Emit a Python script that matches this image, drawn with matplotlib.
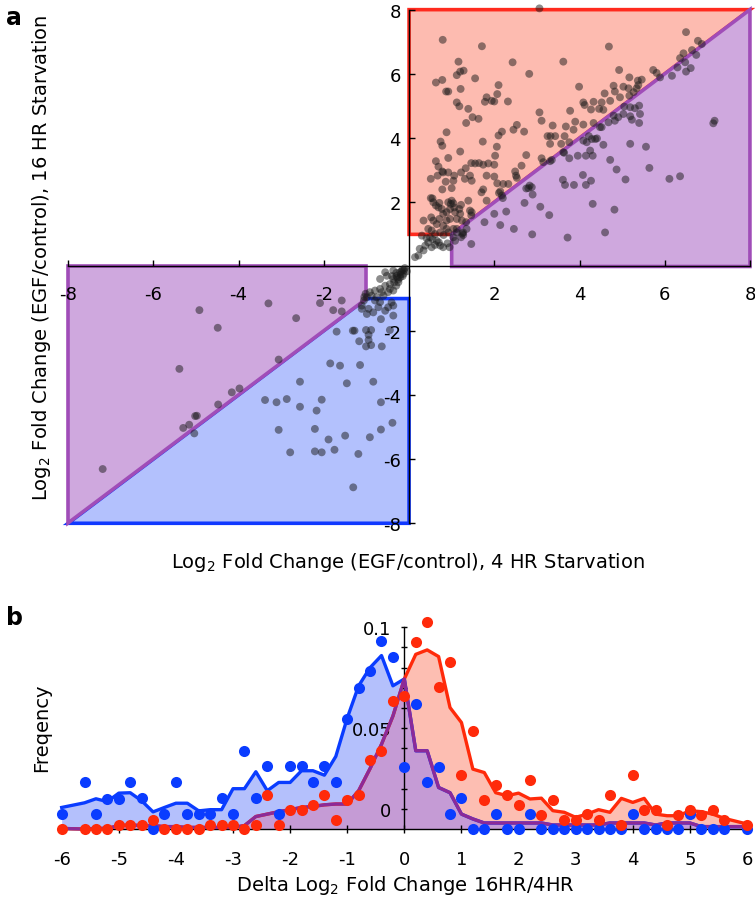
import numpy as np
import matplotlib
matplotlib.use("Agg")
import matplotlib.pyplot as plt
from matplotlib.patches import Polygon

plt.rcParams["font.family"] = ["DejaVu Sans"]
plt.rcParams["axes.unicode_minus"] = False

# ---------------- panel a data: log2 fold change, 4 HR (x) vs 16 HR (y)
up_x = [3.06, 0.79, 1.71, 4.69, 6.5, 6.78, 6.87, 1.16, 2.43, 3.62, 1.2, 1.28, 1.12, 6.44, 6.36, 6.64,
        6.74, 6.48, 6.3, 6.61, 6.5, 0.63, 0.78, 1.55, 2.82, 4.93, 5.73, 5.81, 6.17, 5.89, 5.17, 2.1,
        3.99, 5.03, 4.8, 5.37, 5.46, 5.38, 5.34, 0.87, 0.92, 1.21, 2.07, 1.82, 1.78, 1.94, 2.0, 2.32,
        1.12, 1.18, 1.39, 4.83, 4.95, 5.15, 5.27, 5.17, 4.59, 4.52, 4.72, 4.33, 4.09, 4.12, 3.78, 4.27,
        4.46, 4.56, 5.05, 5.19, 4.8, 4.91, 5.4, 5.42, 5.3, 3.06, 3.11, 1.49, 1.63, 1.34, 2.53, 2.45,
        2.7, 3.37, 3.68, 3.9, 4.09, 4.33, 3.86, 4.48, 4.68, 4.83, 5.03, 5.19, 5.23, 5.4, 7.17, 7.14,
        0.88, 0.74, 0.78, 1.2, 1.73, 2.06, 2.1, 2.18, 3.25, 3.32, 3.43, 3.65, 3.31, 3.57, 3.62, 3.76,
        4.09, 4.22, 4.29, 4.17, 4.37, 4.41, 4.56, 4.52, 5.19, 5.56, 0.63, 0.69, 0.78, 0.92, 0.92, 2.02,
        2.0, 2.75, 3.11, 3.15, 3.31, 3.35, 3.64, 3.76, 3.96, 4.15, 4.31, 4.25, 4.72, 5.64, 0.51, 0.67,
        0.8, 1.04, 1.22, 1.33, 1.46, 1.55, 1.64, 1.74, 1.86, 1.43, 1.31, 1.06, 0.86, 0.78, 1.0, 1.47,
        1.82, 2.0, 2.07, 2.21, 2.33, 2.49, 2.51, 2.53, 2.64, 1.74, 1.7, 2.14, 2.11, 2.8, 2.75, 2.88,
        2.83, 2.9, 2.2, 1.82, 2.18, 3.61, 3.66, 3.87, 4.08, 4.15, 4.27, 4.87, 5.08, 6.11, 6.36, 2.71,
        3.08, 4.31, 4.82, 3.29, 2.28, 2.0, 1.77, 2.14, 2.46, 2.89, 3.72, 4.6, 1.46, 1.22, 1.25, 1.12,
        0.34, 0.51, 0.55, 0.57, 0.63, 0.69, 0.71, 0.77, 0.8, 0.88, 0.92, 0.98, 1.0, 1.04, 0.96, 1.06,
        1.08, 1.18, 1.22, 1.2, 1.24, 1.34, 1.39, 1.43, 1.47, 1.46, 1.35, 1.27, 1.04, 0.88, 0.8, 0.65,
        0.57, 0.52, 0.71, 0.96, 1.12, 0.88, 0.73, 0.53, 0.45, 1.12, 0.92, 0.81, 0.61, 1.27, 1.04, 1.08,
        0.22, 0.34, 0.38, 0.45, 0.53, 0.61, 0.65, 0.73, 0.8, 0.41, 0.3, 0.49, 0.14, 0.25, 0.55, 0.7,
        0.9, 0.95]
up_y = [8.04, 7.06, 6.86, 6.85, 7.3, 7.03, 6.93, 6.38, 6.36, 6.38, 6.07, 6.1, 5.96, 6.64, 6.49, 6.74,
        6.59, 6.36, 6.2, 6.18, 6.07, 5.73, 5.81, 5.86, 6.0, 6.12, 6.12, 6.03, 5.94, 5.89, 5.89, 5.65,
        5.6, 5.6, 5.63, 5.79, 5.82, 5.65, 5.55, 5.45, 5.45, 5.53, 5.37, 5.27, 5.13, 5.16, 5.14, 5.14,
        5.11, 4.99, 4.91, 5.45, 5.27, 5.55, 5.43, 5.32, 5.39, 5.11, 5.16, 5.13, 5.11, 5.03, 4.85, 4.89,
        4.91, 4.88, 4.98, 4.96, 4.7, 4.65, 5.01, 4.75, 4.93, 4.8, 4.54, 4.65, 4.6, 4.47, 4.41, 4.26,
        4.2, 4.39, 4.36, 4.51, 4.42, 4.47, 4.26, 4.34, 4.49, 4.54, 4.75, 4.68, 4.57, 4.47, 4.54, 4.46,
        4.18, 3.89, 3.76, 3.58, 3.89, 3.73, 4.08, 4.2, 4.06, 4.06, 4.06, 4.06, 3.82, 3.82, 3.56, 3.87,
        3.92, 4.06, 3.97, 3.87, 3.97, 3.99, 3.79, 4.34, 3.82, 3.73, 3.28, 3.11, 2.96, 3.38, 2.93, 3.45,
        3.17, 3.47, 3.37, 3.25, 3.28, 3.32, 3.54, 3.37, 3.45, 3.45, 3.45, 3.61, 3.32, 3.07, 2.73, 2.83,
        2.93, 2.67, 2.93, 3.06, 3.22, 3.21, 3.22, 3.17, 3.21, 2.83, 2.73, 2.83, 2.64, 2.4, 2.44, 2.67,
        2.83, 2.8, 2.59, 2.57, 2.57, 2.96, 2.83, 2.76, 3.14, 2.4, 2.31, 2.34, 2.29, 2.44, 2.43, 2.47,
        2.52, 2.24, 2.13, 2.05, 2.21, 2.7, 2.54, 2.54, 2.85, 2.54, 2.67, 3.02, 2.71, 2.73, 2.81, 1.98,
        1.86, 1.95, 1.77, 1.6, 1.71, 1.64, 1.38, 1.29, 1.17, 1.0, 0.9, 1.06, 0.7, 0.91, 1.03, 1.17,
        1.43, 2.13, 2.12, 2.0, 1.9, 1.84, 1.98, 1.79, 1.64, 1.69, 2.0, 1.95, 2.05, 1.97, 1.79, 1.84,
        1.69, 1.79, 1.92, 1.64, 1.43, 1.38, 2.05, 1.74, 1.69, 1.59, 1.17, 1.06, 1.17, 1.17, 1.27, 1.32,
        1.43, 1.53, 1.48, 1.48, 1.48, 1.43, 1.06, 1.12, 1.17, 1.06, 1.06, 0.98, 1.01, 0.98, 0.91, 0.8,
        0.34, 0.5, 0.65, 0.75, 0.6, 0.67, 0.8, 0.65, 0.6, 0.88, 0.96, 0.91, 0.29, 0.55, 0.85, 0.75,
        0.72, 0.6]

down_x = [-7.19, -4.92, -4.49, -5.39, -3.3, -2.65, -3.06, -3.98, -4.16, -4.48, -4.98, -5.02, -5.16,
          -5.3, -5.04, -2.09, -1.78, -1.58, -1.58, -1.7, -1.32, -1.28, -1.01, -0.89, -0.95, -1.17,
          -0.95, -1.01, -0.89, -0.64, -0.45, -0.37, -1.85, -1.62, -1.15, -2.56, -1.46, -0.84, -3.38,
          -3.11, -2.87, -2.56, -2.17, -2.05, -0.66, -0.39, -0.66, -0.92, -2.21, -1.5, -1.89, -3.06,
          -2.79, -2.21, -2.05, -1.75, -1.19, -1.31, -1.11, -0.95, -0.8, -0.68, -0.56, -0.41, -0.84,
          -0.66, -0.99, -0.37, -0.49, -0.72, -1.11, -1.06, -0.92, -0.8, -0.68, -0.56, -0.45, -0.37,
          -0.29, -0.21, -0.25, -0.37, -0.49, -0.6, -0.76, -0.88, -0.99, -0.68, -0.52, -0.56, -0.37,
          -0.21, -0.13, -0.45, -0.64, -0.15, -0.1, -0.2, -0.3, -0.25, -0.35, -0.4, -0.15, -0.05, -0.3,
          -0.18, -0.12, -0.28, -1.02, -1.05]
down_y = [-6.31, -1.36, -1.91, -3.19, -1.15, -1.61, -2.9, -3.8, -3.92, -4.3, -4.65, -4.66, -4.93,
          -5.03, -5.2, -1.14, -1.36, -1.06, -1.4, -2.03, -2.0, -2.0, -1.98, -1.98, -2.13, -2.33,
          -2.29, -2.49, -2.45, -2.49, -1.98, -1.53, -3.02, -3.09, -3.07, -3.59, -3.64, -3.59, -4.16,
          -4.23, -4.13, -4.37, -4.49, -4.15, -4.23, -4.87, -5.08, -5.32, -5.06, -5.27, -5.39, -5.09,
          -5.79, -5.76, -5.79, -5.71, -5.84, -6.88, -1.32, -1.32, -1.06, -1.11, -1.38, -1.12, -1.43,
          -1.64, -1.48, -1.22, -1.27, -1.27, -1.22, -1.06, -0.8, -0.75, -0.7, -0.6, -0.55, -0.39,
          -0.29, -0.18, -0.49, -0.75, -0.8, -0.91, -0.96, -0.91, -0.96, -0.39, -0.29, -0.18, -0.13,
          -0.34, -0.23, -0.7, -0.8, -0.1, -0.05, -0.25, -0.2, -0.4, -0.5, -0.3, -0.3, -0.15, -0.6,
          -0.15, -0.12, -0.35, -0.85, -0.95]

# ---------------- panel b data: frequency of delta log2 fold change
delta = [-6.0, -5.6, -5.4, -5.2, -5.0, -4.8, -4.6, -4.4, -4.2, -4.0, -3.8, -3.6, -3.4, -3.2, -3.0,
         -2.8, -2.6, -2.4, -2.2, -2.0, -1.8, -1.6, -1.4, -1.2, -1.0, -0.8, -0.6, -0.4, -0.2, 0.0,
         0.2, 0.4, 0.6, 0.8, 1.0, 1.2, 1.4, 1.6, 1.8, 2.0, 2.2, 2.4, 2.6, 2.8, 3.0, 3.2, 3.4, 3.6,
         3.8, 4.0, 4.2, 4.4, 4.6, 4.8, 5.0, 5.2, 5.4, 5.6, 6.0]
blue_pts = [0.0074, 0.0231, 0.0074, 0.0149, 0.0149, 0.0231, 0.0152, 0.0, 0.0074, 0.0231, 0.0074,
            0.0074, 0.0074, 0.0152, 0.0074, 0.0388, 0.0152, 0.0314, 0.0074, 0.0314, 0.0314, 0.0231,
            0.0314, 0.0231, 0.0545, 0.0701, 0.0784, 0.0932, 0.0855, 0.031, 0.0619, 0.0234, 0.031,
            0.0074, 0.0152, 0.0, 0.0, 0.0074, 0.0, 0.0, 0.0074, 0.0, 0.0, 0.0, 0.0, 0.0, 0.0, 0.0,
            0.0, 0.0074, 0.0, 0.0, 0.0, 0.0, 0.0074, 0.0, 0.0, 0.0, 0.0]
red_pts = [0.0, 0.0, 0.0, 0.0, 0.002, 0.002, 0.002, 0.0046, 0.0, 0.0, 0.0, 0.0, 0.002, 0.002, 0.002,
           0.0, 0.002, 0.0168, 0.002, 0.0096, 0.0096, 0.0119, 0.0168, 0.0046, 0.0144, 0.0168, 0.0342,
           0.0388, 0.0636, 0.066, 0.0927, 0.1026, 0.0706, 0.083, 0.0267, 0.0487, 0.0145, 0.0218,
           0.0168, 0.0119, 0.0243, 0.0069, 0.0145, 0.0046, 0.0046, 0.0074, 0.0046, 0.0168, 0.002,
           0.0267, 0.0096, 0.0096, 0.002, 0.0069, 0.0096, 0.0069, 0.0096, 0.0046, 0.002]
blue_line = [0.0107, 0.013, 0.015, 0.0136, 0.0178, 0.018, 0.014, 0.0085, 0.0107, 0.0128, 0.0128,
             0.009, 0.0096, 0.0096, 0.02, 0.02, 0.0284, 0.019, 0.0231, 0.0231, 0.0289, 0.0289,
             0.0267, 0.036, 0.055, 0.071, 0.08, 0.086, 0.071, 0.0744, 0.0388, 0.0388, 0.0206, 0.018,
             0.0074, 0.005, 0.003, 0.003, 0.003, 0.003, 0.003, 0.003, 0.002, 0.002, 0.002, 0.002,
             0.002, 0.003, 0.003, 0.003, 0.003, 0.002, 0.003, 0.003, 0.003, 0.0012, 0.0012, 0.0012,
             0.0012]
purple_line = [0.0003, 0.0, 0.0003, 0.0003, 0.0017, 0.002, 0.0017, 0.0017, 0.0012, 0.0012, 0.0008,
               0.0008, 0.0008, 0.0008, 0.0008, 0.0017, 0.0062, 0.0074, 0.0086, 0.0096, 0.0107,
               0.0112, 0.012, 0.0124, 0.0124, 0.019, 0.03, 0.042, 0.056, 0.0744, 0.0388, 0.0388,
               0.0206, 0.018, 0.0074, 0.005, 0.003, 0.003, 0.003, 0.003, 0.003, 0.003, 0.002, 0.002,
               0.002, 0.002, 0.002, 0.003, 0.003, 0.003, 0.003, 0.002, 0.003, 0.003, 0.003, 0.0012,
               0.0012, 0.0012, 0.0012]
red_line = [0.0003, 0.0, 0.0003, 0.0003, 0.0017, 0.002, 0.0017, 0.0017, 0.0012, 0.0012, 0.0008,
            0.0008, 0.0008, 0.0008, 0.0008, 0.0017, 0.0062, 0.0074, 0.0086, 0.0096, 0.0107, 0.0112,
            0.012, 0.0124, 0.0124, 0.019, 0.03, 0.042, 0.056, 0.0744, 0.0866, 0.0888, 0.0855,
            0.0602, 0.0528, 0.0297, 0.028, 0.018, 0.0165, 0.0178, 0.0149, 0.0153, 0.0091, 0.0083,
            0.0058, 0.0074, 0.0096, 0.0083, 0.0152, 0.0132, 0.0152, 0.0074, 0.0066, 0.0066, 0.0091,
            0.0086, 0.0074, 0.0053, 0.0025]

ticks_a = [-8, -6, -4, -2, 2, 4, 6, 8]
ticks_b = [-6, -5, -4, -3, -2, -1, 0, 1, 2, 3, 4, 5, 6]
freq_ticks = [0.01, 0.02, 0.03, 0.04, 0.05, 0.06, 0.07, 0.08, 0.09, 0.1]
freq_labels = ["0", "", "", "", "0.05", "", "", "", "", "0.1"]

# colours
RED_E, RED_F = "#ff2a1e", "#fdbbb0"
PUR_E, PUR_F = "#a04db8", "#cfa8de"
BLU_E, BLU_F = "#1038ff", "#b3c1fd"

fig = plt.figure(figsize=(7.55, 9.03), dpi=100)

# ======================= panel a
ax = fig.add_axes([0.0903, 0.4194, 0.9030, 0.5688])
ax.set_xlim(-8, 8)
ax.set_ylim(-8, 8)

regions = [
    ([(0, 1), (0, 8), (8, 8), (1, 1)], RED_F, RED_E),
    ([(1, 1), (8, 8), (8, 0), (1, 0)], PUR_F, PUR_E),
    ([(-8, -8), (-1, -1), (0, -1), (0, -8)], BLU_F, BLU_E),
    ([(-8, -8), (-8, 0), (-1, 0), (-1, -1)], PUR_F, PUR_E),
]
for pts, fc, ec in regions:
    ax.add_patch(Polygon(pts, closed=True, facecolor=fc, edgecolor=ec, lw=2.6,
                         joinstyle="miter", clip_on=False, zorder=1))

ax.scatter(up_x + down_x, up_y + down_y, s=32, color="#1a1a1a", alpha=0.5,
           edgecolors="none", zorder=3, clip_on=False)

for side in ["top", "right"]:
    ax.spines[side].set_visible(False)
ax.spines["left"].set_position("zero")
ax.spines["bottom"].set_position("zero")
for side in ["left", "bottom"]:
    ax.spines[side].set_linewidth(1.0)
    ax.spines[side].set_zorder(2)
ax.set_xticks(ticks_a)
ax.set_yticks(ticks_a)
ax.set_xticklabels([str(t) for t in ticks_a])
ax.set_yticklabels([str(t) for t in ticks_a])
ax.tick_params(axis="x", direction="in", length=4, width=1, pad=13, labelsize=13)
ax.tick_params(axis="y", direction="in", length=4, width=1, pad=6, labelsize=13)

fig.text(408 / 755, 1 - 562 / 903, "Log$_2$ Fold Change (EGF/control), 4 HR Starvation",
         ha="center", va="center", fontsize=14)
fig.text(42 / 755, 1 - 258 / 903, "Log$_2$ Fold Change (EGF/control), 16 HR Starvation",
         ha="center", va="center", rotation=90, fontsize=14)
fig.text(14 / 755, 1 - 18 / 903, "a", ha="center", va="center", fontsize=17, fontweight="bold")

# ======================= panel b
bx = fig.add_axes([0.0817, 0.0808, 0.9077, 0.2368])
bx.set_xlim(-6, 6)
bx.set_ylim(0, 0.106)

bx.fill_between(delta, 0, blue_line, color="#b4c0fc", lw=0, zorder=1)
bx.fill_between(delta, 0, red_line, color="#fdbeb2", lw=0, zorder=1)
bx.fill_between(delta, 0, purple_line, color="#c59bd5", lw=0, zorder=1)
bx.plot(delta, blue_line, color="#0a3cff", lw=2.4, zorder=3, clip_on=False)
bx.plot(delta, red_line, color="#ff2a0a", lw=2.4, zorder=3, clip_on=False)
bx.plot(delta, purple_line, color="#8c2a98", lw=2.4, zorder=3, clip_on=False)
bx.plot(delta, blue_pts, "o", color="#0a3cff", ms=8, mew=0, zorder=4, clip_on=False)
bx.plot(delta, red_pts, "o", color="#ff2a0a", ms=8, mew=0, zorder=5, clip_on=False)

for side in ["top", "right"]:
    bx.spines[side].set_visible(False)
bx.spines["left"].set_position(("data", 0))
bx.spines["left"].set_bounds(0, 0.1)
for side in ["left", "bottom"]:
    bx.spines[side].set_linewidth(1.0)
    bx.spines[side].set_zorder(2)
bx.set_xticks(ticks_b)
bx.set_xticklabels([str(t) for t in ticks_b])
bx.set_yticks(freq_ticks)
bx.set_yticklabels(freq_labels)
bx.tick_params(axis="x", direction="inout", length=6, width=1, pad=12, labelsize=13)
bx.tick_params(axis="y", direction="inout", length=5, width=1, pad=7, labelsize=13)

fig.text(405 / 755, 1 - 886 / 903, "Delta Log$_2$ Fold Change 16HR/4HR",
         ha="center", va="center", fontsize=14)
fig.text(42 / 755, 1 - 728 / 903, "Freqency", ha="center", va="center",
         rotation=90, fontsize=14)
fig.text(14 / 755, 1 - 618 / 903, "b", ha="center", va="center", fontsize=17, fontweight="bold")

fig.savefig("out.png", dpi=100)
